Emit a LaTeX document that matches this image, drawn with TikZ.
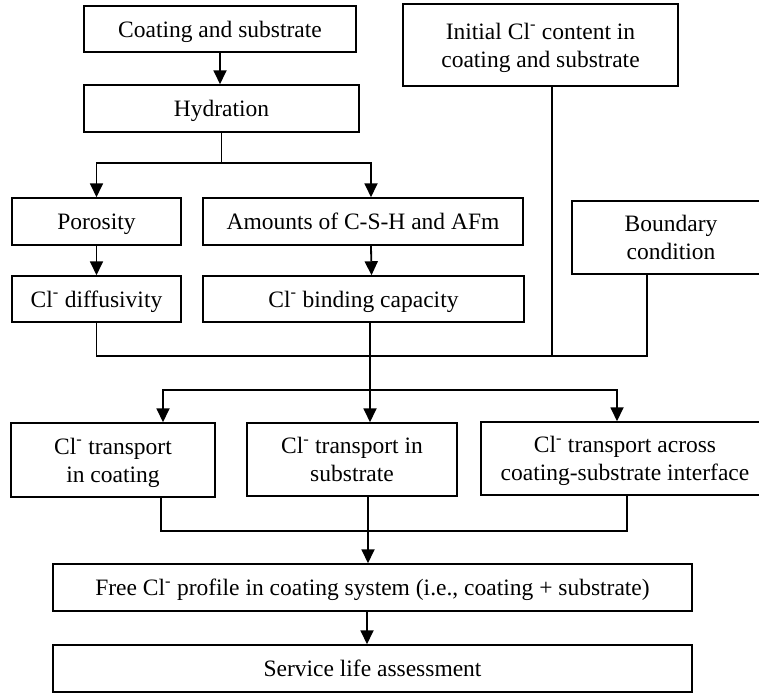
\documentclass[tikz,border=0pt]{standalone}
\usepackage{fontspec}
\setmainfont{Liberation Serif}
\usetikzlibrary{arrows.meta}
\newcommand{\clm}{Cl\textsuperscript{-}}
\newcommand{\bs}{\rule[-5.5pt]{0pt}{27pt}}
\begin{document}
\begin{tikzpicture}[x=1pt,y=-1pt,
  box/.style={draw, line width=1.5pt, inner sep=0pt, align=center,
              font=\fontsize{23.5}{28}\selectfont},
  conn/.style={line width=1.8pt},
  arr/.style={conn, -{Triangle[width=13pt,length=14pt]}}]
\useasboundingbox (0,0) rectangle (759,694);
\clip (0,0) rectangle (759,694);
\fill[white] (0,0) rectangle (759,694);
% nodes
\node[box, minimum width=272pt, minimum height=46pt] (cs) at (220,29) {\bs Coating and substrate};
\node[box, minimum width=275pt, minimum height=47pt] (hyd) at (221.5,108.5) {\bs Hydration};
\node[box, minimum width=275pt, minimum height=82pt] (init) at (540.5,45) {\bs Initial \clm{} content in\\\bs coating and substrate};
\node[box, minimum width=169pt, minimum height=47pt] (por) at (96.5,221.5) {\bs Porosity};
\node[box, minimum width=320pt, minimum height=47pt] (amt) at (363,221.5) {\bs Amounts of C-S-H and AFm};
\node[box, minimum width=169pt, minimum height=46pt] (dif) at (96.5,299) {\bs\clm{} diffusivity};
\node[box, minimum width=321pt, minimum height=46pt] (bind) at (363.5,299) {\bs\clm{} binding capacity};
\node[box, minimum width=198pt, minimum height=73pt] (bnd) at (671,237.5) {\bs Boundary\\\bs condition};
\node[box, minimum width=204pt, minimum height=74pt] (tc) at (113,460) {\bs\clm{} transport\\\bs in coating};
\node[box, minimum width=210pt, minimum height=73pt] (ts) at (352,459.5) {\bs\clm{} transport in\\\bs substrate};
\node[box, minimum width=288pt, minimum height=73pt] (ta) at (625,458.5) {\bs\clm{} transport across\\\bs coating-substrate interface};
\node[box, minimum width=639pt, minimum height=47pt] (free) at (372.5,587.5) {\bs Free \clm{} profile in coating system (i.e., coating + substrate)};
\node[box, minimum width=639pt, minimum height=47pt] (serv) at (372.5,668.5) {\bs Service life assessment};
% junctions
\coordinate (j1) at (221.5,163);
\coordinate (j2) at (647,356);
\coordinate (j3) at (370,390);
\coordinate (j4) at (627,531);
% connectors
\draw[arr] (cs.south) -- (cs.south |- hyd.north);
\draw[conn] (hyd.south) -- (j1);
\draw[arr] (j1) -| (por.north);
\draw[arr] (j1) -| ([xshift=8pt]amt.north);
\draw[arr] (por.south) -- (dif.north);
\draw[arr] ([xshift=8pt]amt.south) -- ([xshift=8pt]bind.north);
\draw[conn] (dif.south) |- (j2) -- ([xshift=-24pt]bnd.south);
\draw[conn] ([xshift=11.5pt]init.south) -- ([xshift=11.5pt]init.south |- j2);
\draw[conn] ([xshift=6.5pt]bind.south) -- (j3);
\draw[arr] (j3) -- (j3 |- ts.north);
\draw[arr] (j3) -| ([xshift=50pt]tc.north);
\draw[arr] (j3) -| ([xshift=-8pt]ta.north);
\draw[conn] ([xshift=48pt]tc.south) |- (j4) -- ([xshift=2pt]ta.south);
\draw[arr] ([xshift=16pt]ts.south) -- ([xshift=16pt]ts.south |- free.north);
\draw[arr] ([xshift=-5.5pt]free.south) -- ([xshift=-5.5pt]free.south |- serv.north);
\end{tikzpicture}
\end{document}
